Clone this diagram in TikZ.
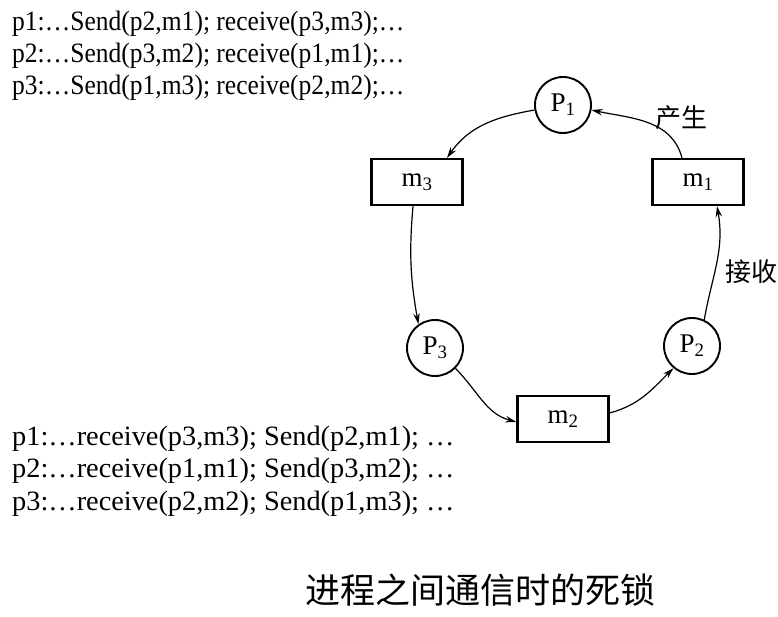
\documentclass[tikz,border=0pt]{standalone}
\usepackage{fontspec}
\setmainfont{Liberation Serif}
\newfontfamily\cjk{Noto Sans CJK SC}
\usetikzlibrary{arrows.meta,calc}
\newcommand{\narrowtxt}[1]{\scalebox{0.912}[1]{#1}}
\begin{document}
\begin{tikzpicture}[x=1pt,y=1pt,
  proc/.style={circle,draw,line width=1.9pt,minimum size=56pt,inner sep=0pt,font=\fontsize{27}{27}\selectfont},
  msg/.style={rectangle,draw,line width=2.2pt,minimum width=91pt,minimum height=46pt,inner sep=0pt,font=\fontsize{27}{27}\selectfont},
  flow/.style={-{Stealth[length=11pt,width=6.5pt]},line width=1.2pt},
  code/.style={anchor=west,inner sep=0pt,font=\fontsize{28}{28}\selectfont},
  cjklabel/.style={inner sep=0pt,font=\cjk\fontsize{26}{26}\selectfont}]
\useasboundingbox (0,0) rectangle (778,616);
% code lines
\node[code] (t1) at (12,592) {\narrowtxt{p1:…Send(p2,m1); receive(p3,m3);…}};
\node[code] (t2) at (12,560) {\narrowtxt{p2:…Send(p3,m2); receive(p1,m1);…}};
\node[code] (t3) at (12,528) {\narrowtxt{p3:…Send(p1,m3); receive(p2,m2);…}};
\node[code] (b1) at (12,177) {\scalebox{1.012}[1]{p1:…receive(p3,m3); Send(p2,m1); …}};
\node[code] (b2) at (12,145) {\scalebox{1.012}[1]{p2:…receive(p1,m1); Send(p3,m2); …}};
\node[code] (b3) at (12,112) {\scalebox{1.012}[1]{p3:…receive(p2,m2); Send(p1,m3); …}};
% nodes
\node[proc] (p1) at (563,511) {P\textsubscript{1}};
\node[proc] (p2) at (692,270) {P\textsubscript{2}};
\node[proc] (p3) at (435,268) {P\textsubscript{3}};
\node[msg] (m1) at (698,434) {m\textsubscript{1}};
\node[msg] (m2) at (563,197) {m\textsubscript{2}};
\node[msg] (m3) at (417,434) {m\textsubscript{3}};
% connectors
\draw[flow] (p1.190) to[out=190,in=55] ($(m3.north)+(30,0)$);
\draw[flow] ($(m1.north)+(-16,0)$) to[out=105,in=-12] (p1.-10);
\draw[flow] (p2.65) to[out=80,in=-80] ($(m1.south)+(19,0)$);
\draw[flow] ($(m3.south)+(-4,0)$) to[out=-95,in=100] (p3.125);
\draw[flow] (p3.-45) to[out=-45,in=165] ($(m2.west)+(0,-3)$);
\draw[flow] ($(m2.east)+(0,6)$) to[out=15,in=-135] (p2.-130);
% labels
\node[cjklabel] (l1) at (681,498) {产生};
\node[cjklabel] (l2) at (751,344) {接收};
\node[inner sep=0pt,font=\cjk\fontsize{35}{35}\selectfont] (title) at (480,26) {进程之间通信时的死锁};
\end{tikzpicture}
\end{document}
